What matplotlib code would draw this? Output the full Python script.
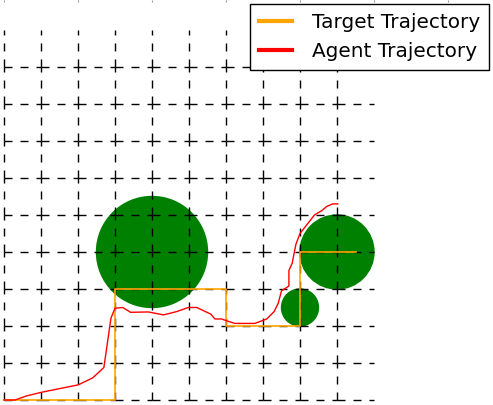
import numpy as np
import matplotlib
matplotlib.use("Agg")
import matplotlib.pyplot as plt
from matplotlib.patches import Circle

plt.rcParams['lines.scale_dashes'] = False

# grid size (lines at 0..9, each running 0..10)
n_lines = 10
n_cells = 10

# obstacles: centre x, centre y, radius
obs_x = [4, 9, 8]
obs_y = [4, 4, 2.5]
obs_r = [1.5, 1.0, 0.5]

# target trajectory
target_x = [0, 3, 3, 6, 6, 8, 8, 9.5]
target_y = [0, 0, 3, 3, 2, 2, 4, 4]

# agent trajectory
agent_x = [0.0, 0.30, 0.61, 1.02, 2.01, 2.40, 2.70, 2.89, 3.00, 3.21, 3.42, 3.90,
           4.31, 4.67, 4.98, 5.21, 5.59, 5.70, 5.88, 6.02, 6.24, 6.78, 7.10, 7.30,
           7.41, 7.50, 7.70, 7.70, 7.79, 7.84, 7.89, 8.00, 8.39, 8.59, 8.72, 8.88, 9.02]
agent_y = [0.0, 0.0, 0.11, 0.21, 0.41, 0.60, 0.88, 2.21, 2.48, 2.50, 2.37, 2.38,
           2.30, 2.39, 2.50, 2.50, 2.32, 2.19, 2.19, 2.14, 2.07, 2.07, 2.19, 2.39,
           2.61, 2.95, 3.08, 3.50, 3.70, 3.96, 4.21, 4.50, 5.00, 5.12, 5.23, 5.30, 5.30]

fig = plt.figure(figsize=(4.93, 4.05), dpi=100)
ax = fig.add_axes([0, 0, 1, 1])

# obstacles
for cx, cy, r in zip(obs_x, obs_y, obs_r):
    ax.add_patch(Circle((cx, cy), r, color='green', zorder=1))

# dashed grid, one segment per cell edge
dash = (0, (5.76, 5.76))
for i in range(n_lines):
    for j in range(n_cells):
        ax.plot([j, j + 1], [i, i], color='black', lw=1.0, linestyle=dash, zorder=2)
        ax.plot([i, i], [j, j + 1], color='black', lw=1.0, linestyle=dash, zorder=2)

ax.plot(target_x, target_y, color='orange', lw=1.2, zorder=3, label='Target Trajectory')
ax.plot(agent_x, agent_y, color='red', lw=1.0, zorder=4, label='Agent Trajectory')

# pixel scale: 37 px per unit, origin at (4, 400)
ax.set_xlim(-4 / 37, 489 / 37)
ax.set_ylim(-5 / 37, 400 / 37)

for s in ax.spines.values():
    s.set_visible(False)
ax.set_xticks(np.arange(0, 13, 2))
ax.set_yticks([])
ax.tick_params(axis='x', direction='in', top=True, bottom=False,
               labelbottom=False, length=1.5, width=0.8, color='#999999')

leg = ax.legend(loc='upper right', bbox_to_anchor=(489 / 493, 1 - 4 / 405),
                bbox_transform=fig.transFigure, borderaxespad=0, fancybox=False,
                framealpha=1, edgecolor='black', fontsize=14.4,
                handlelength=1.65, handletextpad=1.0, labelspacing=0.5,
                borderpad=0.45)
leg.get_frame().set_linewidth(1.0)
for line in leg.get_lines():
    line.set_linewidth(3.0)

fig.savefig('out.png', dpi=100)
